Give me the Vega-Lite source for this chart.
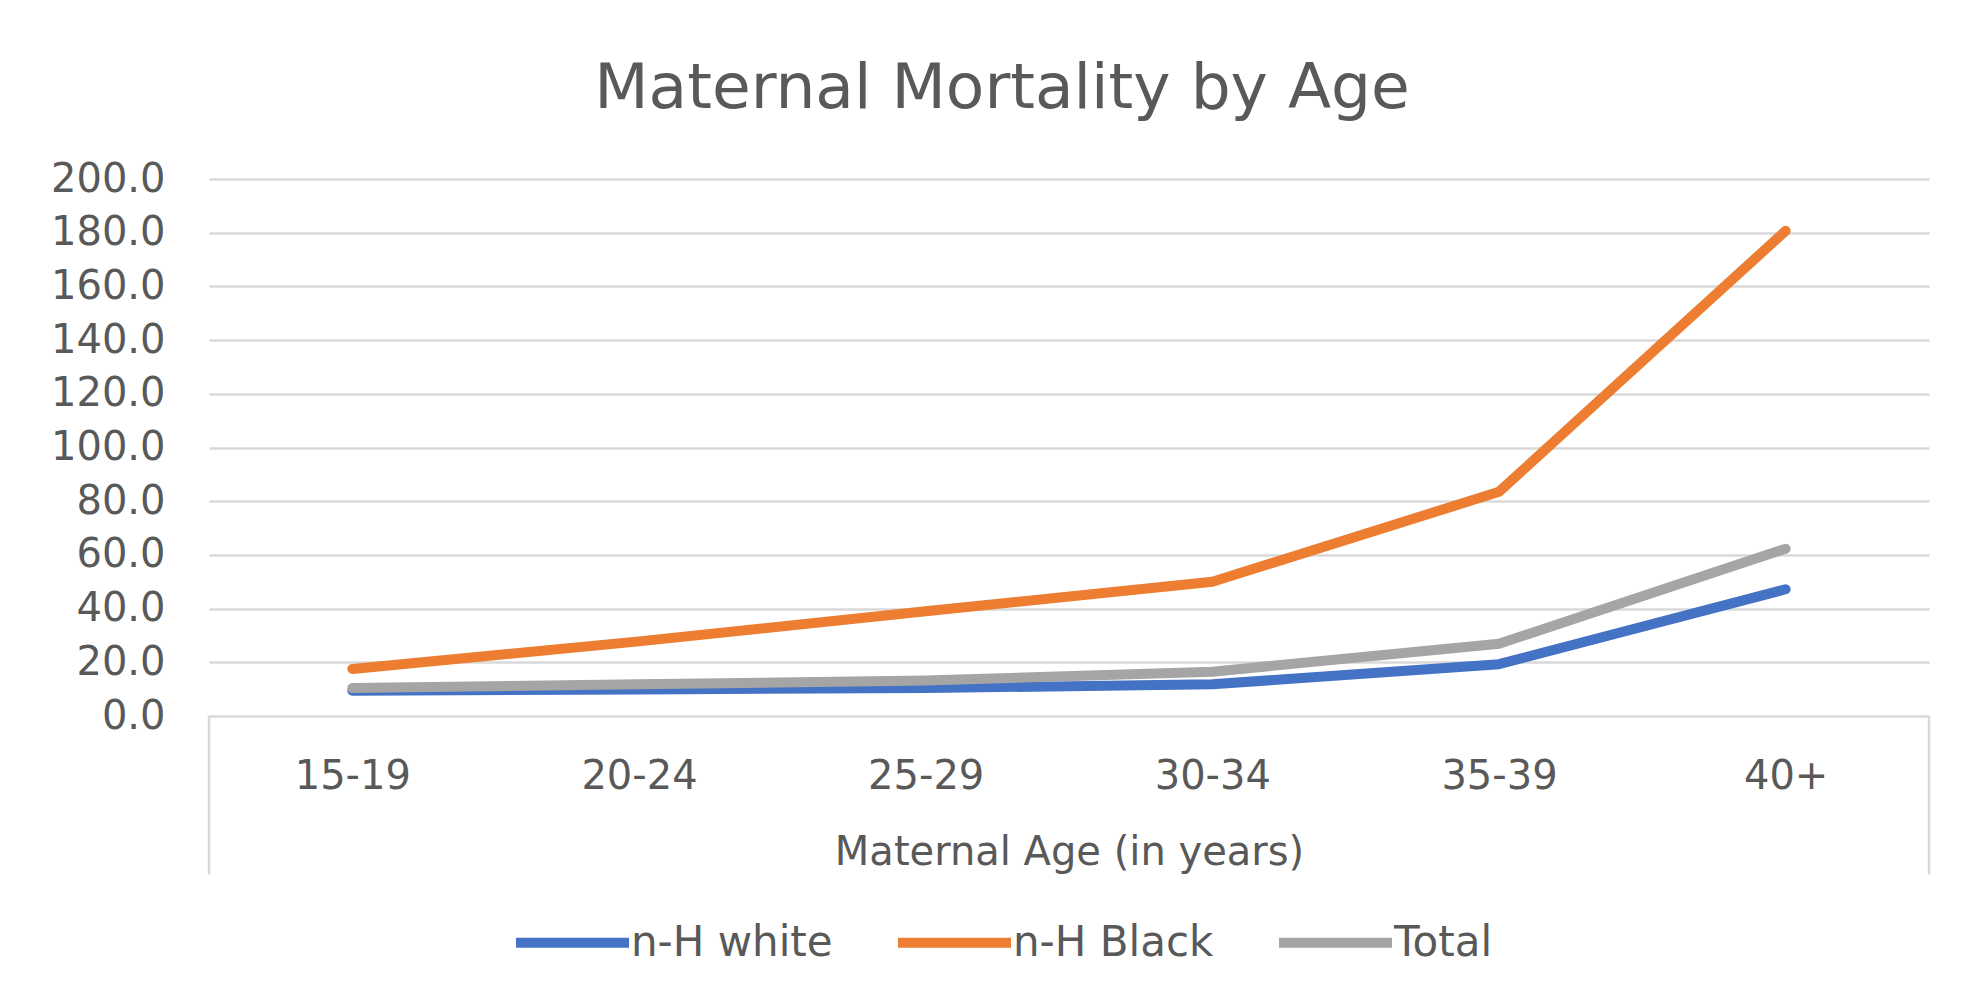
{
  "$schema": "https://vega.github.io/schema/vega-lite/v6.json",
  "width": 1720,
  "height": 537,
  "autosize": "none",
  "padding": {"left": 209, "top": 179, "right": 58, "bottom": 283},
  "background": "white",
  "title": {
    "text": "Maternal Mortality by Age",
    "font": "DejaVu Sans",
    "fontSize": 63,
    "fontWeight": "normal",
    "color": "#595959",
    "anchor": "middle",
    "frame": "group",
    "offset": 38,
    "dx": -67
  },
  "config": {
    "view": {"stroke": null},
    "font": "DejaVu Sans"
  },
  "resolve": {"scale": {"x": "independent"}},
  "layer": [
    {
      "data": {"values": [{"edge": "left"}, {"edge": "right"}]},
      "mark": {"type": "rule", "color": "#D9D9D9", "strokeWidth": 2.5},
      "encoding": {
        "x": {"field": "edge", "type": "ordinal", "scale": {"type": "point", "padding": 0}, "axis": null},
        "y": {"datum": 0, "type": "quantitative", "scale": {"domain": [0, 200]}},
        "y2": {"datum": -59}
      }
    },
    {
      "data": {
        "values": [
          {"age": "15-19", "group": "n-H white", "rate": 9.4},
          {"age": "20-24", "group": "n-H white", "rate": 9.9},
          {"age": "25-29", "group": "n-H white", "rate": 10.4},
          {"age": "30-34", "group": "n-H white", "rate": 11.8},
          {"age": "35-39", "group": "n-H white", "rate": 19.3},
          {"age": "40+", "group": "n-H white", "rate": 47.2},
          {"age": "15-19", "group": "n-H Black", "rate": 17.5},
          {"age": "20-24", "group": "n-H Black", "rate": 27.8},
          {"age": "25-29", "group": "n-H Black", "rate": 39.0},
          {"age": "30-34", "group": "n-H Black", "rate": 50.0},
          {"age": "35-39", "group": "n-H Black", "rate": 83.5},
          {"age": "40+", "group": "n-H Black", "rate": 180.7},
          {"age": "15-19", "group": "Total", "rate": 10.4},
          {"age": "20-24", "group": "Total", "rate": 11.8},
          {"age": "25-29", "group": "Total", "rate": 13.2},
          {"age": "30-34", "group": "Total", "rate": 16.5},
          {"age": "35-39", "group": "Total", "rate": 26.9},
          {"age": "40+", "group": "Total", "rate": 62.3}
        ]
      },
      "mark": {"type": "line", "strokeWidth": 10, "strokeCap": "round", "strokeJoin": "round"},
      "encoding": {
        "x": {
          "field": "age",
          "type": "ordinal",
          "sort": ["15-19", "20-24", "25-29", "30-34", "35-39", "40+"],
          "scale": {"type": "point", "padding": 0.5},
          "axis": {
            "title": "Maternal Age (in years)",
            "titleFont": "DejaVu Sans",
            "titleFontSize": 40,
            "titleFontWeight": "normal",
            "titleColor": "#595959",
            "titlePadding": 36,
            "labelFont": "DejaVu Sans",
            "labelFontSize": 40,
            "labelColor": "#595959",
            "labelAngle": 0,
            "labelPadding": 40,
            "ticks": false,
            "domain": false,
            "grid": false
          }
        },
        "y": {
          "field": "rate",
          "type": "quantitative",
          "scale": {"domain": [0, 200]},
          "axis": {
            "title": null,
            "values": [0, 20, 40, 60, 80, 100, 120, 140, 160, 180, 200],
            "format": ".1f",
            "labelFont": "DejaVu Sans",
            "labelFontSize": 40,
            "labelColor": "#595959",
            "labelPadding": 44,
            "ticks": false,
            "domain": false,
            "grid": true,
            "gridColor": "#D9D9D9",
            "gridWidth": 2.5
          }
        },
        "color": {
          "field": "group",
          "type": "nominal",
          "sort": ["n-H white", "n-H Black", "Total"],
          "scale": {"domain": ["n-H white", "n-H Black", "Total"], "range": ["#4472C4", "#ED7D31", "#A5A5A5"]},
          "legend": {
            "title": null,
            "orient": "none",
            "direction": "horizontal",
            "legendX": 302,
            "legendY": 702,
            "symbolType": "stroke",
            "symbolSize": 12769,
            "symbolStrokeWidth": 10,
            "labelFont": "DejaVu Sans",
            "labelFontSize": 42,
            "labelLimit": 0,
            "labelColor": "#595959",
            "labelOffset": -3,
            "columnPadding": 45,
            "padding": 0
          }
        }
      }
    }
  ]
}
